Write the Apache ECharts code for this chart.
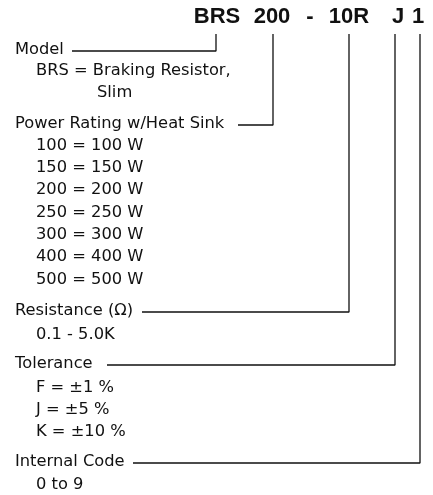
<!DOCTYPE html>
<html>
<head>
<meta charset="utf-8">
<script src="https://cdn.jsdelivr.net/npm/echarts@6/dist/echarts.min.js"></script>
<style>
  html, body { margin: 0; padding: 0; background: #fff; }
  #diagram { width: 433px; height: 495px; }
</style>
</head>
<body>
<div id="diagram"></div>
<script>
// part number pieces and the fields they stand for
const codeParts = ['BRS', '200', '-', '10R', 'J', '1'];
const fieldTitles = ['Model', 'Power Rating w/Heat Sink', 'Resistance (Ω)', 'Tolerance', 'Internal Code'];
const modelOptions = ['BRS = Braking Resistor,', 'Slim'];
const powerOptions = ['100 = 100 W', '150 = 150 W', '200 = 200 W', '250 = 250 W', '300 = 300 W', '400 = 400 W', '500 = 500 W'];
const resistanceOptions = ['0.1 - 5.0K'];
const toleranceOptions = ['F = ±1 %', 'J = ±5 %', 'K = ±10 %'];
const internalCodeOptions = ['0 to 9'];

// layout (pixel space of the 433x495 picture)
const codeX = [217, 272, 310, 349, 398, 418];
const codeY = 17;
const lineTop = 34;
const leaderX = [216, 273, 349, 395, 420];
const titleY = [50, 124, 311, 364, 462];
const leaderStart = [72, 238, 142, 107, 133];
const titleX = 15;
const optionX = 36;
const optionRows = [
  { items: modelOptions, x: [36, 97], y: [71, 93] },
  { items: powerOptions, x: null, y: [146, 168, 190, 213, 235, 257, 280] },
  { items: resistanceOptions, x: null, y: [335] },
  { items: toleranceOptions, x: null, y: [388, 410, 432] },
  { items: internalCodeOptions, x: null, y: [485] }
];

const headFont = "'Liberation Sans', Arial, Helvetica, sans-serif";
const bodyFont = "'DejaVu Sans', sans-serif";
const ink = '#111';

let chart = echarts.init(document.getElementById('diagram'));

let headerData = codeParts.map((t, i) => ({ value: [codeX[i], codeY], name: t }));
let titleData = fieldTitles.map((t, i) => ({ value: [titleX, titleY[i]], name: t }));
let optionData = [];
optionRows.forEach((row) => {
  row.items.forEach((t, j) => {
    optionData.push({ value: [row.x ? row.x[j] : optionX, row.y[j]], name: t });
  });
});

let leaderSeries = fieldTitles.map((t, i) => ({
  type: 'line',
  silent: true,
  symbol: 'none',
  lineStyle: { color: ink, width: 1.3 },
  data: [
    [leaderStart[i], titleY[i] + 1],
    [leaderX[i], titleY[i] + 1],
    [leaderX[i], lineTop]
  ]
}));

chart.setOption({
  animation: false,
  grid: { left: 0, right: 0, top: 0, bottom: 0 },
  xAxis: { type: 'value', min: 0, max: 433, show: false },
  yAxis: { type: 'value', min: 0, max: 495, inverse: true, show: false },
  series: [
    ...leaderSeries,
    {
      type: 'scatter',
      symbolSize: 0,
      silent: true,
      itemStyle: { opacity: 1 },
      data: headerData,
      label: {
        show: true,
        position: 'inside',
        formatter: (p) => p.name,
        fontFamily: headFont,
        fontWeight: 'bold',
        fontSize: 22,
        color: ink
      }
    },
    {
      type: 'scatter',
      symbolSize: 0,
      silent: true,
      itemStyle: { opacity: 1 },
      data: titleData.concat(optionData),
      label: {
        show: true,
        position: 'right',
        distance: 0,
        formatter: (p) => p.name,
        fontFamily: bodyFont,
        fontSize: 16.3,
        color: ink
      }
    }
  ]
});
</script>
</body>
</html>
